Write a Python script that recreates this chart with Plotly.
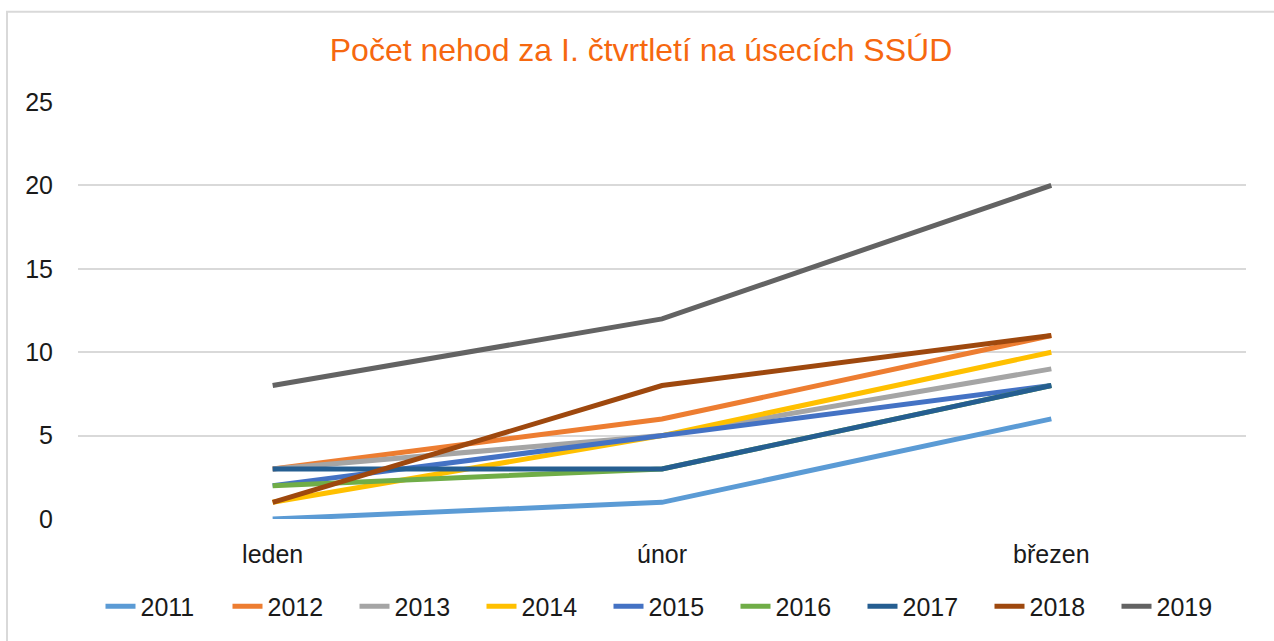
import plotly.graph_objects as go

months = ["leden", "únor", "březen"]
years = ["2011", "2012", "2013", "2014", "2015", "2016", "2017", "2018", "2019"]
v2011 = [0, 1, 6]
v2012 = [3, 6, 11]
v2013 = [3, 5, 9]
v2014 = [1, 5, 10]
v2015 = [2, 5, 8]
v2016 = [2, 3, 8]
v2017 = [3, 3, 8]
v2018 = [1, 8, 11]
v2019 = [8, 12, 20]
series = [v2011, v2012, v2013, v2014, v2015, v2016, v2017, v2018, v2019]
colors = ["#5B9BD5", "#ED7D31", "#A5A5A5", "#FFC000", "#4472C4",
          "#70AD47", "#255E91", "#9E480E", "#636363"]
y_ticks = [0, 5, 10, 15, 20, 25]

fig = go.Figure()
for name, vals, col in zip(years, series, colors):
    fig.add_trace(go.Scatter(x=months, y=vals, name=name, mode="lines",
                             line=dict(color=col, width=5)))

font_family = "Liberation Sans, Arial, sans-serif"
fig.update_layout(
    width=1274, height=641,
    margin=dict(l=78, r=28, t=102, b=119),
    paper_bgcolor="white", plot_bgcolor="white",
    title=dict(text="Počet nehod za I. čtvrtletí na úsecích SSÚD",
               font=dict(family=font_family, size=32, color="#F6680F"),
               x=0.5 + 4 / 1274, xanchor="center", y=1 - 50 / 641, yanchor="middle"),
    font=dict(family=font_family, size=25, color="#1a1a1a"),
    showlegend=True,
    legend=dict(orientation="h", x=0.5 + 10 / 1168, xanchor="center",
                y=-0.21, yanchor="middle",
                font=dict(size=25, color="#1a1a1a"),
                entrywidth=82, itemwidth=30, tracegroupgap=0),
    xaxis=dict(type="category", showgrid=False, zeroline=False,
               showline=False, ticks="", ticklabelstandoff=18,
               range=[-0.5, 2.5], fixedrange=True),
    yaxis=dict(range=[0, 25], tickvals=y_ticks, showgrid=True,
               gridcolor="#D9D9D9", gridwidth=2, zeroline=False,
               showline=False, ticks="", ticklabelstandoff=24,
               fixedrange=True),
    shapes=[dict(type="rect", xref="paper", yref="paper",
                 x0=(7 - 78) / 1168, x1=(1290 - 78) / 1168,
                 y0=(522 - 660) / 420, y1=(522 - 11) / 420,
                 line=dict(color="#D9D9D9", width=2), layer="below")],
)

fig.write_html("out.html",
               config={"displayModeBar": False},
               post_script="document.body.style.margin='0';document.body.style.overflow='hidden';")
